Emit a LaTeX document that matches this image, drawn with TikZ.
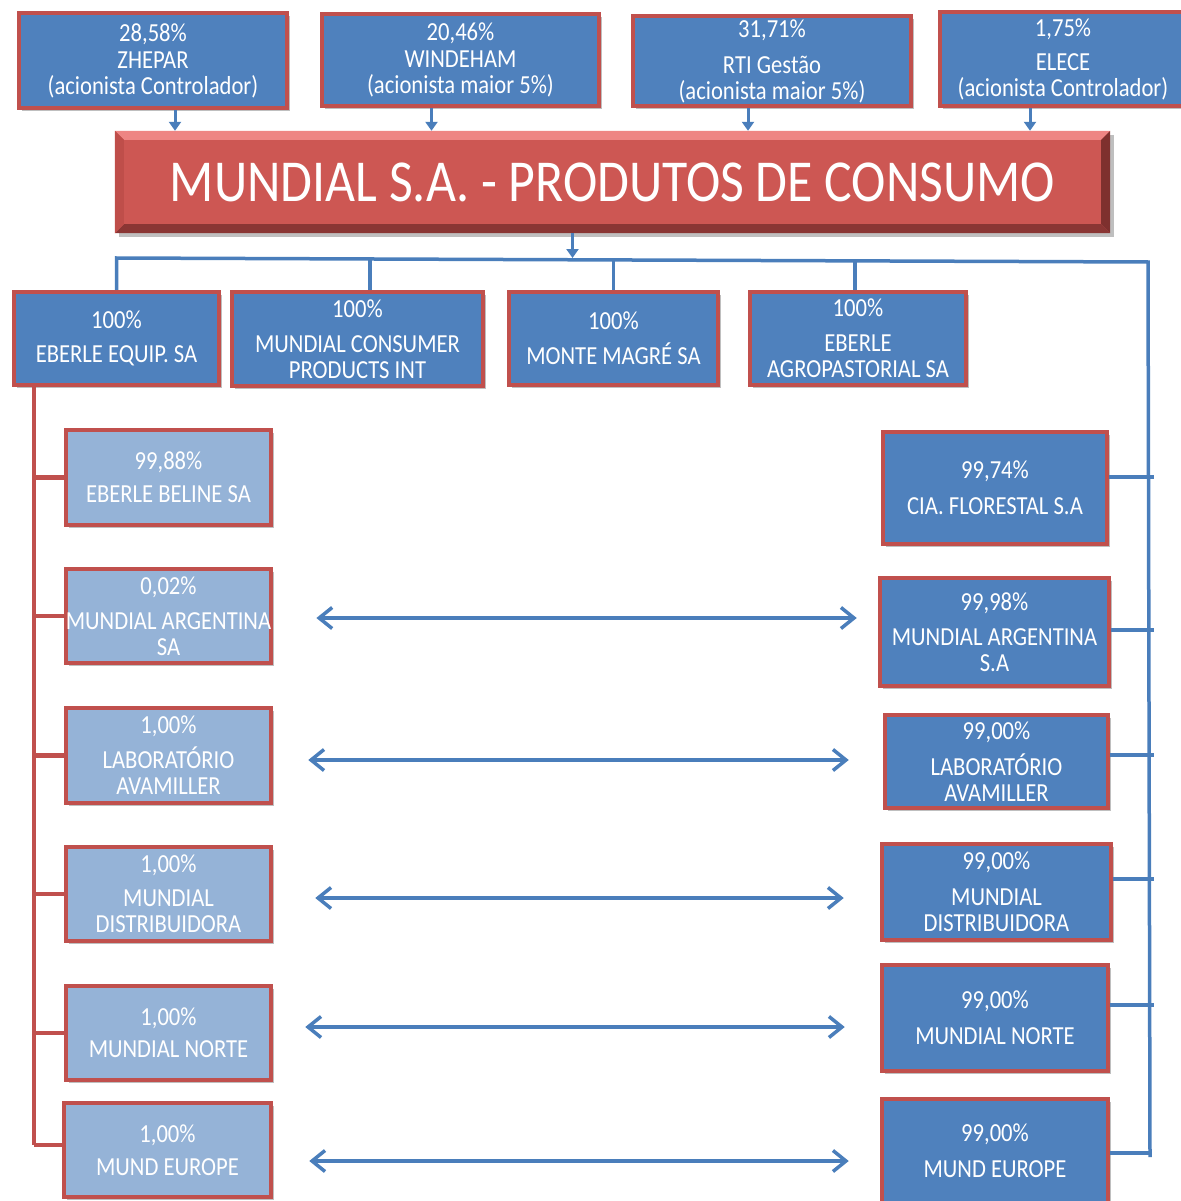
\documentclass[tikz,border=0pt]{standalone}
\usepackage{fontspec}
\setmainfont{Carlito}
\newfontfamily\cf[FakeStretch=0.87]{Carlito}
\usetikzlibrary{arrows.meta,shadows,calc}
\definecolor{dkblue}{HTML}{4F81BD}
\definecolor{ltblue}{HTML}{95B3D7}
\definecolor{bred}{HTML}{C0504D}
\definecolor{lblue}{HTML}{4A7EBB}
\definecolor{tred}{HTML}{CD5753}
\definecolor{tlight}{HTML}{EE8583}
\definecolor{tmid}{HTML}{BF4E4A}
\definecolor{tdark}{HTML}{7E302E}
\begin{document}
\begin{tikzpicture}[x=1pt,y=-1pt,
  box/.style={draw=bred, line width=4.5pt, text=white, align=center, inner sep=0pt,
    font=\cf\fontsize{26}{26}\selectfont,
    drop shadow={shadow xshift=3pt,shadow yshift=-3pt,fill=black,opacity=0.25}},
  dk/.style={box, fill=dkblue},
  lt/.style={box, fill=ltblue},
  bl/.style={draw=lblue, line width=3.5pt},
  rl/.style={draw=bred, line width=4.5pt},
  ta/.style={draw=lblue, line width=3pt, -{Triangle[length=9pt,width=12pt]}},
  dbl/.style={draw=lblue, line width=3.5pt, {Straight Barb[length=13pt,width=21pt]}-{Straight Barb[length=13pt,width=21pt]}}
]
\useasboundingbox (0,0) rectangle (1180,1201);

% top shareholders
\node[dk, minimum width=268, minimum height=95] (zh) at (153,60.5) {28,58\%\\[1pt]ZHEPAR\\(acionista Controlador)};
\node[dk, minimum width=277, minimum height=92] (wi) at (460.5,60) {20,46\%\\[1pt]WINDEHAM\\(acionista maior 5\%)};
\node[dk, minimum width=278, minimum height=90] (rti) at (772,61) {31,71\%\\[10pt]RTI Gestão\\(acionista maior 5\%)};
\node[dk, minimum width=246, minimum height=94] (el) at (1063,59) {1,75\%\\[8pt]ELECE\\(acionista Controlador)};

% main box
\node[fill=tred, minimum width=995, minimum height=102, inner sep=0pt, text=white,
  font=\cf\fontsize{59.5}{60}\selectfont,
  drop shadow={shadow xshift=4pt,shadow yshift=-4pt,fill=black,opacity=0.25}] (main) at (612.5,182) {MUNDIAL S.A. - PRODUTOS DE CONSUMO};
\fill[tlight] (main.north west) -- (main.north east) -- ([xshift=-9pt,yshift=-9pt]main.north east) -- ([xshift=9pt,yshift=-9pt]main.north west) -- cycle;
\fill[tdark] (main.north east) -- (main.south east) -- ([xshift=-9pt,yshift=9pt]main.south east) -- ([xshift=-9pt,yshift=-9pt]main.north east) -- cycle;
\fill[tdark!85!tred] (main.south west) -- (main.south east) -- ([xshift=-9pt,yshift=9pt]main.south east) -- ([xshift=9pt,yshift=9pt]main.south west) -- cycle;
\fill[tmid] (main.north west) -- ([xshift=9pt,yshift=-9pt]main.north west) -- ([xshift=9pt,yshift=9pt]main.south west) -- (main.south west) -- cycle;

% arrows from shareholders
\draw[ta] ([xshift=22pt]zh.south) -- ([xshift=22pt]zh.south |- main.north);
\draw[ta] ([xshift=-29pt]wi.south) -- ([xshift=-29pt]wi.south |- main.north);
\draw[ta] ([xshift=-24pt]rti.south) -- ([xshift=-24pt]rti.south |- main.north);
\draw[ta] ([xshift=-33pt]el.south) -- ([xshift=-33pt]el.south |- main.north);

% second row
\node[dk, minimum width=205, minimum height=93] (eeq) at (116.5,338.5) {100\%\\[8pt]EBERLE EQUIP. SA};
\node[dk, minimum width=251, minimum height=94] (mcp) at (357.5,339) {100\%\\[9pt]MUNDIAL CONSUMER\\PRODUCTS INT};
\node[dk, minimum width=209, minimum height=93] (mm) at (613.5,338.5) {100\%\\[9pt]MONTE MAGRÉ SA};
\node[dk, minimum width=216, minimum height=93] (eag) at (858,338.5) {100\%\\[9pt]EBERLE\\AGROPASTORIAL SA};

% bus
\coordinate (busL) at (116.5,258);
\coordinate (busR) at (1148,262);
\coordinate (rvEnd) at (1150,1157);
\draw[ta] ([xshift=-40pt]main.south) -- ([xshift=-40pt]main.south |- busL);
\draw[bl] (eeq.north) -- (busL) -- (busR) -- (rvEnd);
\draw[bl] ([xshift=12.5pt]mcp.north) -- ([xshift=12.5pt]mcp.north |- busL);
\draw[bl] (mm.north) -- (mm.north |- busL);
\draw[bl] ([xshift=-3pt]eag.north) -- ([xshift=-3pt]eag.north |- busR);

% left column
\node[lt, minimum width=205, minimum height=95] (lBE) at (168.5,477.5) {99,88\%\\[7pt]EBERLE BELINE SA};
\node[lt, minimum width=205, minimum height=94] (lAR) at (168.5,616) {0,02\%\\[9pt]MUNDIAL ARGENTINA\\SA};
\node[lt, minimum width=205, minimum height=95] (lLA) at (168.5,755.5) {1,00\%\\[9pt]LABORATÓRIO\\AVAMILLER};
\node[lt, minimum width=205, minimum height=94] (lMD) at (168.5,894) {1,00\%\\[8pt]MUNDIAL\\DISTRIBUIDORA};
\node[lt, minimum width=205, minimum height=94] (lMN) at (168.5,1033) {1,00\%\\[6pt]MUNDIAL NORTE};
\node[lt, minimum width=207, minimum height=94] (lEU) at (167.5,1150) {1,00\%\\[7pt]MUND EUROPE};

\coordinate (lvEnd) at (34,1145);
\draw[rl] (eeq.south -| lvEnd) -- (lvEnd);
\draw[rl] (lBE.west -| lvEnd) -- (lBE.west);
\draw[rl] (lAR.west -| lvEnd) -- (lAR.west);
\draw[rl] (lLA.west -| lvEnd) -- (lLA.west);
\draw[rl] (lMD.west -| lvEnd) -- (lMD.west);
\draw[rl] (lMN.west -| lvEnd) -- (lMN.west);
\draw[rl] ([yshift=5pt]lEU.west -| lvEnd) -- ([yshift=5pt]lEU.west);

% right column
\node[dk, minimum width=224, minimum height=112] (rFL) at (995,488) {99,74\%\\[10pt]CIA. FLORESTAL S.A};
\node[dk, minimum width=229, minimum height=108] (rAR) at (994.5,632) {99,98\%\\[9pt]MUNDIAL ARGENTINA\\S.A};
\node[dk, minimum width=223, minimum height=93] (rLA) at (996.5,761.5) {99,00\%\\[10pt]LABORATÓRIO\\AVAMILLER};
\node[dk, minimum width=229, minimum height=96] (rMD) at (996.5,892) {99,00\%\\[10pt]MUNDIAL\\DISTRIBUIDORA};
\node[dk, minimum width=226, minimum height=106] (rMN) at (995,1018) {99,00\%\\[10pt]MUNDIAL NORTE};
\node[dk, minimum width=226, minimum height=104] (rEU) at (995,1151) {99,00\%\\[10pt]MUND EUROPE};

\draw[bl, shorten >=-4pt] ([yshift=11pt]rFL.east) -- ([yshift=11pt]rFL.east -| rvEnd);
\draw[bl, shorten >=-4pt] ([yshift=2pt]rAR.east) -- ([yshift=2pt]rAR.east -| rvEnd);
\draw[bl, shorten >=-4pt] ([yshift=6.5pt]rLA.east) -- ([yshift=6.5pt]rLA.east -| rvEnd);
\draw[bl, shorten >=-4pt] ([yshift=13pt]rMD.east) -- ([yshift=13pt]rMD.east -| rvEnd);
\draw[bl, shorten >=-4pt] ([yshift=13pt]rMN.east) -- ([yshift=13pt]rMN.east -| rvEnd);
\draw[bl] ([yshift=-2pt]rEU.east) -- ([yshift=-2pt]rEU.east -| rvEnd);

% cross-holding arrows
\draw[dbl, shorten <=43pt, shorten >=21pt] ([yshift=-2pt]lAR.east) -- ([yshift=-2pt]lAR.east -| rAR.west);
\draw[dbl, shorten <=35pt, shorten >=34pt] ([yshift=-4.5pt]lLA.east) -- ([yshift=-4.5pt]lLA.east -| rLA.west);
\draw[dbl, shorten <=42pt, shorten >=36pt] ([yshift=-4pt]lMD.east) -- ([yshift=-4pt]lMD.east -| rMD.west);
\draw[dbl, shorten <=32pt, shorten >=35pt] ([yshift=6pt]lMN.east) -- ([yshift=6pt]lMN.east -| rMN.west);
\draw[dbl, shorten <=36pt, shorten >=31pt] ([yshift=-11pt]lEU.east) -- ([yshift=-11pt]lEU.east -| rEU.west);
\end{tikzpicture}
\end{document}
